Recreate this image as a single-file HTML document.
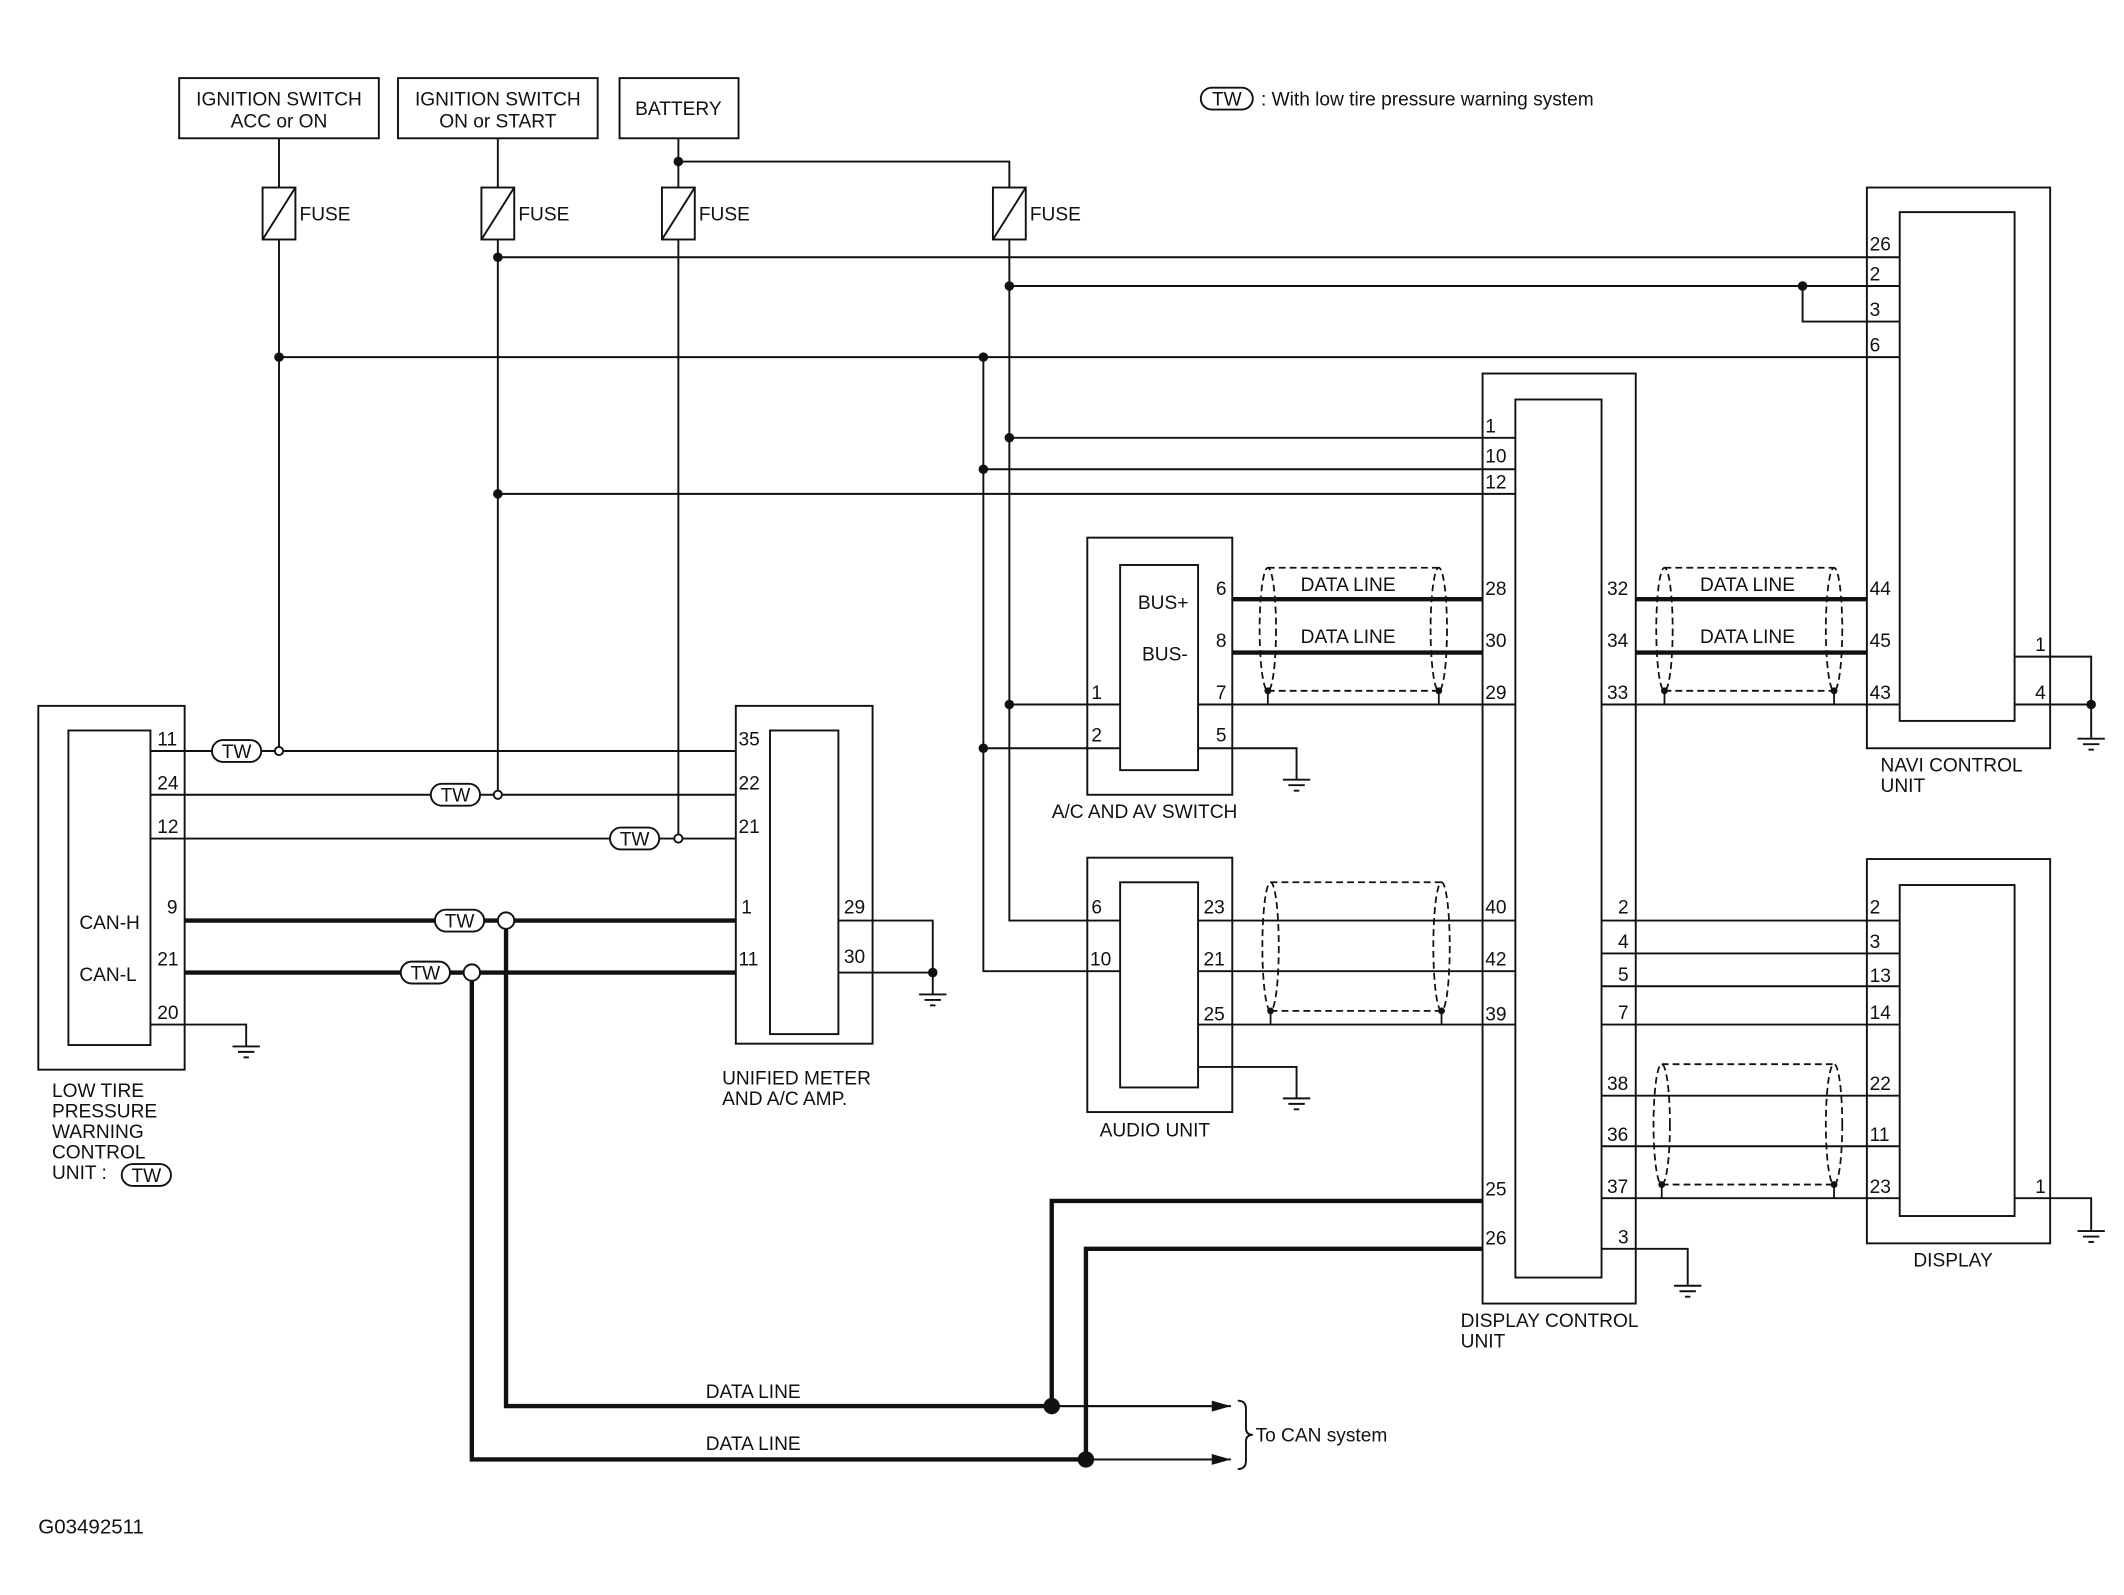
<!DOCTYPE html>
<html><head><meta charset="utf-8"><style>
html,body{margin:0;padding:0;background:#fff;}
svg{display:block}
text{font-family:"Liberation Sans",sans-serif;font-size:14px;fill:#111}
</style></head><body>
<svg width="2124" height="1595" viewBox="0 0 1553 1166" xmlns="http://www.w3.org/2000/svg">
<g fill="none" stroke="#111" stroke-width="1.4">
<!-- top boxes -->
<rect x="131" y="57" width="146" height="44"/>
<rect x="291" y="57" width="146" height="44"/>
<rect x="453" y="57" width="87" height="44"/>
<!-- fuses -->
<rect x="192" y="137" width="24" height="38"/><line x1="192" y1="175" x2="216" y2="137"/>
<rect x="352" y="137" width="24" height="38"/><line x1="352" y1="175" x2="376" y2="137"/>
<rect x="484" y="137" width="24" height="38"/><line x1="484" y1="175" x2="508" y2="137"/>
<rect x="726" y="137" width="24" height="38"/><line x1="726" y1="175" x2="750" y2="137"/>
<!-- supply wires -->
<polyline points="204,101 204,137"/><polyline points="204,175 204,546"/>
<polyline points="364,101 364,137"/><polyline points="364,175 364,578"/>
<polyline points="496,101 496,137"/><polyline points="496,175 496,610"/>
<polyline points="496,118 738,118 738,137"/>
<polyline points="738,175 738,673 819,673"/>
<polyline points="719,261 719,710 819,710"/>
<line x1="364" y1="188" x2="1389" y2="188"/>
<line x1="738" y1="209" x2="1389" y2="209"/>
<polyline points="1318,209 1318,235 1389,235"/>
<line x1="204" y1="261" x2="1389" y2="261"/>
<line x1="738" y1="320" x2="1108" y2="320"/>
<line x1="719" y1="343" x2="1108" y2="343"/>
<line x1="364" y1="361" x2="1108" y2="361"/>
<line x1="738" y1="515" x2="819" y2="515"/>
<line x1="719" y1="547" x2="819" y2="547"/>
<!-- navi -->
<rect x="1365" y="137" width="134" height="410"/>
<rect x="1389" y="155" width="84" height="372"/>
<polyline points="1473,480 1529,480 1529,540"/>
<line x1="1473" y1="515" x2="1529" y2="515"/>
<!-- DCU -->
<rect x="1084" y="273" width="112" height="680"/>
<rect x="1108" y="292" width="63" height="642"/>
<!-- AC switch -->
<rect x="795" y="393" width="106" height="188"/>
<rect x="819" y="413" width="57" height="150"/>
<polyline points="876,547 948,547 948,570"/>
<!-- audio -->
<rect x="795" y="627" width="106" height="186"/>
<rect x="819" y="645" width="57" height="150"/>
<polyline points="876,780 948,780 948,803"/>
<!-- display -->
<rect x="1365" y="628" width="134" height="281"/>
<rect x="1389" y="647" width="84" height="242"/>
<polyline points="1473,876 1529,876 1529,900"/>
<!-- unified meter -->
<rect x="538" y="516" width="100" height="247"/>
<rect x="563" y="534" width="50" height="222"/>
<polyline points="613,673 682,673 682,727"/>
<line x1="613" y1="711" x2="682" y2="711"/>
<!-- low tire -->
<rect x="28" y="516" width="107" height="266"/>
<rect x="50" y="534" width="60" height="230"/>
<polyline points="110,749 180,749 180,765"/>
<line x1="110" y1="549" x2="538" y2="549"/>
<line x1="110" y1="581" x2="538" y2="581"/>
<line x1="110" y1="613" x2="538" y2="613"/>
<!-- DCU thin connections -->
<line x1="876" y1="515" x2="1108" y2="515"/>
<line x1="1171" y1="515" x2="1389" y2="515"/>
<line x1="876" y1="673" x2="1108" y2="673"/>
<line x1="876" y1="710" x2="1108" y2="710"/>
<line x1="876" y1="749" x2="1108" y2="749"/>
<line x1="1171" y1="673" x2="1389" y2="673"/>
<line x1="1171" y1="697" x2="1389" y2="697"/>
<line x1="1171" y1="721" x2="1389" y2="721"/>
<line x1="1171" y1="749" x2="1389" y2="749"/>
<line x1="1171" y1="801" x2="1389" y2="801"/>
<line x1="1171" y1="838" x2="1389" y2="838"/>
<line x1="1171" y1="876" x2="1389" y2="876"/>
<polyline points="1171,913 1234,913 1234,940"/>
<!-- arrows lines -->
<line x1="370" y1="1028" x2="900" y2="1028"/>
<line x1="345" y1="1067" x2="900" y2="1067"/>
<!-- brace -->
<path d="M905,1024 q6,0 6,6 v14 q0,5 5,5 q-5,0 -5,5 v14 q0,6 -6,6"/>
</g>
<!-- grounds -->
<g stroke="#111" stroke-width="1.4">
<line x1="1519" y1="540" x2="1539" y2="540"/><line x1="1523" y1="544" x2="1535" y2="544"/><line x1="1527" y1="548" x2="1531" y2="548"/>
<line x1="938" y1="570" x2="958" y2="570"/><line x1="942" y1="574" x2="954" y2="574"/><line x1="946" y1="578" x2="950" y2="578"/>
<line x1="938" y1="803" x2="958" y2="803"/><line x1="942" y1="807" x2="954" y2="807"/><line x1="946" y1="811" x2="950" y2="811"/>
<line x1="1519" y1="900" x2="1539" y2="900"/><line x1="1523" y1="904" x2="1535" y2="904"/><line x1="1527" y1="908" x2="1531" y2="908"/>
<line x1="672" y1="727" x2="692" y2="727"/><line x1="676" y1="731" x2="688" y2="731"/><line x1="680" y1="735" x2="684" y2="735"/>
<line x1="170" y1="765" x2="190" y2="765"/><line x1="174" y1="769" x2="186" y2="769"/><line x1="178" y1="773" x2="182" y2="773"/>
<line x1="1224" y1="940" x2="1244" y2="940"/><line x1="1228" y1="944" x2="1240" y2="944"/><line x1="1232" y1="948" x2="1236" y2="948"/>
</g>
<!-- thick lines -->
<g fill="none" stroke="#111" stroke-width="3.2">
<line x1="901" y1="438" x2="1084" y2="438"/>
<line x1="901" y1="477" x2="1084" y2="477"/>
<line x1="1196" y1="438" x2="1365" y2="438"/>
<line x1="1196" y1="477" x2="1365" y2="477"/>
<line x1="135" y1="673" x2="318" y2="673"/><line x1="354" y1="673" x2="538" y2="673"/>
<line x1="135" y1="711" x2="293" y2="711"/><line x1="329" y1="711" x2="538" y2="711"/>
<polyline points="370,679 370,1028 770,1028"/>
<polyline points="345,717 345,1067 795,1067"/>
<polyline points="1084,878 769,878 769,1028"/>
<polyline points="1084,913 794,913 794,1067"/>
</g>
<line x1="770" y1="1028" x2="890" y2="1028" stroke="#111" stroke-width="1.4"/>
<line x1="795" y1="1067" x2="890" y2="1067" stroke="#111" stroke-width="1.4"/>
<polygon points="900,1028 886,1024 886,1032" fill="#111"/>
<polygon points="900,1067 886,1063 886,1071" fill="#111"/>
<!-- shields -->
<g fill="none" stroke="#111" stroke-width="1.3" stroke-dasharray="5,3">
<ellipse cx="927" cy="460" rx="6" ry="45"/><ellipse cx="1052" cy="460" rx="6" ry="45"/>
<line x1="927" y1="415" x2="1052" y2="415"/><line x1="927" y1="505" x2="1052" y2="505"/>
<ellipse cx="1217" cy="460" rx="6" ry="45"/><ellipse cx="1341" cy="460" rx="6" ry="45"/>
<line x1="1217" y1="415" x2="1341" y2="415"/><line x1="1217" y1="505" x2="1341" y2="505"/>
<ellipse cx="929" cy="692" rx="6" ry="47"/><ellipse cx="1054" cy="692" rx="6" ry="47"/>
<line x1="929" y1="645" x2="1054" y2="645"/><line x1="929" y1="739" x2="1054" y2="739"/>
<ellipse cx="1215" cy="822" rx="6" ry="44"/><ellipse cx="1341" cy="822" rx="6" ry="44"/>
<line x1="1215" y1="778" x2="1341" y2="778"/><line x1="1215" y1="866" x2="1341" y2="866"/>
</g>
<g stroke="#111" stroke-width="1.3">
<line x1="927" y1="505" x2="927" y2="515"/><line x1="1052" y1="505" x2="1052" y2="515"/>
<line x1="1217" y1="505" x2="1217" y2="515"/><line x1="1341" y1="505" x2="1341" y2="515"/>
<line x1="929" y1="739" x2="929" y2="749"/><line x1="1054" y1="739" x2="1054" y2="749"/>
<line x1="1215" y1="866" x2="1215" y2="876"/><line x1="1341" y1="866" x2="1341" y2="876"/>
</g>
<!-- dots -->
<g fill="#111">
<circle cx="204" cy="261" r="3.5"/><circle cx="364" cy="188" r="3.5"/><circle cx="364" cy="361" r="3.5"/>
<circle cx="496" cy="118" r="3.5"/><circle cx="738" cy="209" r="3.5"/><circle cx="738" cy="320" r="3.5"/>
<circle cx="738" cy="515" r="3.5"/><circle cx="719" cy="261" r="3.5"/><circle cx="719" cy="343" r="3.5"/>
<circle cx="719" cy="547" r="3.5"/><circle cx="1318" cy="209" r="3.5"/><circle cx="1529" cy="515" r="3.5"/>
<circle cx="682" cy="711" r="3.5"/><circle cx="769" cy="1028" r="6"/><circle cx="794" cy="1067" r="6"/>
<circle cx="927" cy="505" r="2.5"/><circle cx="1052" cy="505" r="2.5"/><circle cx="1217" cy="505" r="2.5"/><circle cx="1341" cy="505" r="2.5"/>
<circle cx="929" cy="739" r="2.5"/><circle cx="1054" cy="739" r="2.5"/><circle cx="1215" cy="866" r="2.5"/><circle cx="1341" cy="866" r="2.5"/>
</g>
<g fill="#fff" stroke="#111" stroke-width="1.4">
<circle cx="204" cy="549" r="3"/><circle cx="364" cy="581" r="3"/><circle cx="496" cy="613" r="3"/>
<circle cx="370" cy="673" r="6"/><circle cx="345" cy="711" r="6"/>
<rect x="155" y="541" width="36" height="16" rx="8"/>
<rect x="315" y="573" width="36" height="16" rx="8"/>
<rect x="446" y="605" width="36" height="16" rx="8"/>
<rect x="318" y="665" width="36" height="16" rx="8"/>
<rect x="293" y="703" width="36" height="16" rx="8"/>
<rect x="89" y="851" width="36" height="16" rx="8"/>
<rect x="878" y="64" width="38" height="16" rx="8"/>
</g>
<!-- text -->
<g text-anchor="middle">
<text x="204" y="77">IGNITION SWITCH</text><text x="204" y="93">ACC or ON</text>
<text x="364" y="77">IGNITION SWITCH</text><text x="364" y="93">ON or START</text>
<text x="496" y="84">BATTERY</text>
<text x="173" y="554">TW</text><text x="333" y="586">TW</text><text x="464" y="618">TW</text>
<text x="336" y="678">TW</text><text x="311" y="716">TW</text><text x="107" y="864">TW</text><text x="897" y="77">TW</text>
</g>
<text x="922" y="77">: With low tire pressure warning system</text>
<text x="219" y="161">FUSE</text><text x="379" y="161">FUSE</text><text x="511" y="161">FUSE</text><text x="753" y="161">FUSE</text>
<!-- navi pins -->
<g>
<text x="1367" y="183">26</text><text x="1367" y="205">2</text><text x="1367" y="231">3</text><text x="1367" y="257">6</text>
<text x="1367" y="435">44</text><text x="1367" y="473">45</text><text x="1367" y="511">43</text>
<text x="1488" y="476">1</text><text x="1488" y="511">4</text>
<text x="1375" y="564">NAVI CONTROL</text><text x="1375" y="579">UNIT</text>
<!-- DCU -->
<text x="1086" y="316">1</text><text x="1086" y="338">10</text><text x="1086" y="357">12</text>
<text x="1086" y="435">28</text><text x="1086" y="473">30</text><text x="1086" y="511">29</text>
<text x="1086" y="668">40</text><text x="1086" y="706">42</text><text x="1086" y="746">39</text>
<text x="1086" y="874">25</text><text x="1086" y="910">26</text>
<text x="1175" y="435">32</text><text x="1175" y="473">34</text><text x="1175" y="511">33</text>
<text x="1183" y="668">2</text><text x="1183" y="693">4</text><text x="1183" y="717">5</text><text x="1183" y="745">7</text>
<text x="1175" y="797">38</text><text x="1175" y="834">36</text><text x="1175" y="872">37</text><text x="1183" y="909">3</text>
<text x="1068" y="970">DISPLAY CONTROL</text><text x="1068" y="985">UNIT</text>
<!-- AC switch -->
<text x="832" y="445">BUS+</text><text x="835" y="483">BUS-</text>
<text x="889" y="435">6</text><text x="889" y="473">8</text><text x="889" y="511">7</text><text x="889" y="542">5</text>
<text x="798" y="511">1</text><text x="798" y="542">2</text>
<text x="769" y="598">A/C AND AV SWITCH</text>
<text x="951" y="432">DATA LINE</text><text x="951" y="470">DATA LINE</text>
<text x="1243" y="432">DATA LINE</text><text x="1243" y="470">DATA LINE</text>
<!-- audio -->
<text x="798" y="668">6</text><text x="797" y="706">10</text>
<text x="880" y="668">23</text><text x="880" y="706">21</text><text x="880" y="746">25</text>
<text x="804" y="831">AUDIO UNIT</text>
<!-- display -->
<text x="1367" y="668">2</text><text x="1367" y="693">3</text><text x="1367" y="718">13</text><text x="1367" y="745">14</text>
<text x="1367" y="797">22</text><text x="1367" y="834">11</text><text x="1367" y="872">23</text><text x="1488" y="872">1</text>
<text x="1399" y="926">DISPLAY</text>
<!-- meter -->
<text x="540" y="545">35</text><text x="540" y="577">22</text><text x="540" y="609">21</text>
<text x="542" y="668">1</text><text x="540" y="706">11</text>
<text x="617" y="668">29</text><text x="617" y="704">30</text>
<text x="528" y="793">UNIFIED METER</text><text x="528" y="808">AND A/C AMP.</text>
<!-- low tire -->
<text x="115" y="545">11</text><text x="115" y="577">24</text><text x="115" y="609">12</text>
<text x="122" y="668">9</text><text x="115" y="706">21</text><text x="115" y="745">20</text>
<text x="58" y="679">CAN-H</text><text x="58" y="717">CAN-L</text>
<text x="38" y="802">LOW TIRE</text><text x="38" y="817">PRESSURE</text><text x="38" y="832">WARNING</text><text x="38" y="847">CONTROL</text><text x="38" y="862">UNIT :</text>
<text x="516" y="1022">DATA LINE</text><text x="516" y="1060">DATA LINE</text>
<text x="918" y="1054">To CAN system</text>
<text x="28" y="1121" style="font-size:15px">G03492511</text>
</g>
</svg>
</body></html>
